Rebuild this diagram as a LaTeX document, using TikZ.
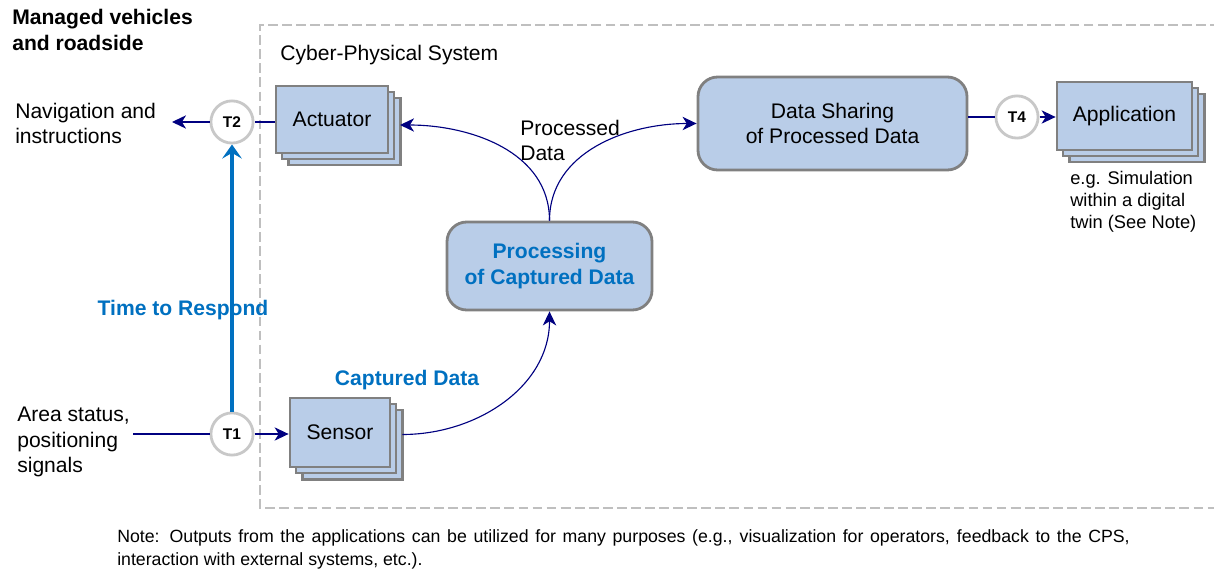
\documentclass[tikz,border=0pt]{standalone}
\usepackage{fontspec}
\setmainfont{Liberation Sans}
\usetikzlibrary{calc,shadows,arrows.meta}

\definecolor{boxfill}{RGB}{185,205,232}
\definecolor{boxline}{RGB}{128,128,128}
\definecolor{cpsgray}{RGB}{191,191,191}
\definecolor{circgray}{RGB}{200,200,200}
\definecolor{arrownavy}{RGB}{0,0,128}
\definecolor{respblue}{RGB}{0,112,192}

\def\pix{0.025cm}

\tikzset{
	stackbox/.style={draw=boxline, fill=boxfill, line width=2pt, inner sep=0pt,
		double copy shadow={shadow xshift=4.3pt, shadow yshift=-4.3pt},
		font=\fontsize{15}{18}\selectfont},
	roundbox/.style={draw=boxline, fill=boxfill, line width=2pt, inner sep=0pt,
		rounded corners=14pt, align=center, font=\fontsize{15}{18}\selectfont},
	tcirc/.style={circle, draw=circgray, line width=2pt, fill=white, inner sep=0pt,
		minimum size=30pt, font=\bfseries\fontsize{11}{13}\selectfont},
	flow/.style={draw=arrownavy, line width=0.8pt},
	flowarrow/.style={flow, -{Stealth[length=10pt,width=9.5pt,inset=3pt]}},
	respond/.style={draw=respblue, line width=3pt, -{Stealth[length=10pt,width=14pt,inset=4pt]}},
	lbl/.style={anchor=north west, inner sep=0pt, align=left, font=\fontsize{15}{18}\selectfont}
}

\begin{document}
\begin{tikzpicture}[x=\pix, y=-\pix]
			%%%%% START %%%%%
			\useasboundingbox (0,0) rectangle (1214,569);
			
			% cyber-physical system frame
			\draw[cpsgray, line width=2pt, dash pattern=on 7pt off 3pt] (1220,25) -| (260,508) -- (1220,508);
			
			\node[lbl, font=\bfseries\fontsize{15}{18.5}\selectfont] (title) at (12,9) {Managed vehicles\\and roadside};
			\node[lbl] (cps) at (280,45) {Cyber-Physical System};
			\node[lbl] (nav) at (15,103) {Navigation and\\instructions};
			\node[lbl] (area) at (17,407) {Area status,\\positioning\\signals};
			\node[lbl] (procd) at (520,120) {Processed\\Data};
			\node[lbl, font=\fontsize{13}{15.6}\selectfont] (simnote) at (1070,171) {e.g. Simulation\\within a digital\\twin (See Note)};
			
			% boxes
			\node[stackbox, minimum width=112*\pix, minimum height=67*\pix] (act) at (332,119.5) {Actuator};
			\node[stackbox, minimum width=100*\pix, minimum height=69*\pix] (sen) at (340,432.5) {Sensor};
			\node[stackbox, minimum width=135*\pix, minimum height=68*\pix] (app) at (1124.5,116) {Application};
			\node[roundbox, minimum width=205*\pix, minimum height=88*\pix, text=respblue, font=\bfseries\fontsize{15}{18}\selectfont] (proc) at (549.5,266) {Processing\\of Captured Data};
			\node[roundbox, minimum width=269*\pix, minimum height=93*\pix] (share) at (832.5,123.5) {Data Sharing\\of Processed Data};
			
			% time stamps
			\node[tcirc] (t2) at (232,122) {T2};
			\node[tcirc] (t1) at (232,434) {T1};
			\node[tcirc] (t4) at (1017,117) {T4};
			
			\node[text=respblue, font=\bfseries\fontsize{15}{18}\selectfont] (resp) at (183,310) {Time to Respond};
			\node[text=respblue, font=\bfseries\fontsize{15}{18}\selectfont] (capd) at (407,380) {Captured Data};
			
			\coordinate (navend) at (172,122);
			\coordinate (areaend) at (133,434);
			\coordinate (acttip) at (400,125);
			\coordinate (senout) at ($(sen.east)+(11,2)$);
			
			% connectors
			\draw[flowarrow] (t2) -- (navend);
			\draw[flow] (t2 -| act.west) -- (t2);
			\draw[flow] (areaend) -- (t1);
			\draw[flowarrow] (t1) -- (t1 -| sen.west);
			\draw[respond] (t1) -- (t2);
			\draw[flowarrow] (senout) to[out=0, in=-90] (proc.south);
			\draw[flowarrow] (proc.north) to[out=90, in=0] (acttip);
			\draw[flowarrow] (proc.north) to[out=90, in=180] (share.west);
			\draw[flow] (t4 -| share.east) -- (t4);
			\draw[flowarrow] (t4) -- (t4 -| app.west);
			
			\node[lbl, font=\fontsize{12.6}{16.4}\selectfont] (note) at (117,529) {\makebox[720pt][s]{Note: Outputs from the applications can be utilized for many purposes (e.g., visualization for operators, feedback to the CPS,}\\interaction with external systems, etc.).};
			%%%%% END %%%%%
\end{tikzpicture}
\end{document}
